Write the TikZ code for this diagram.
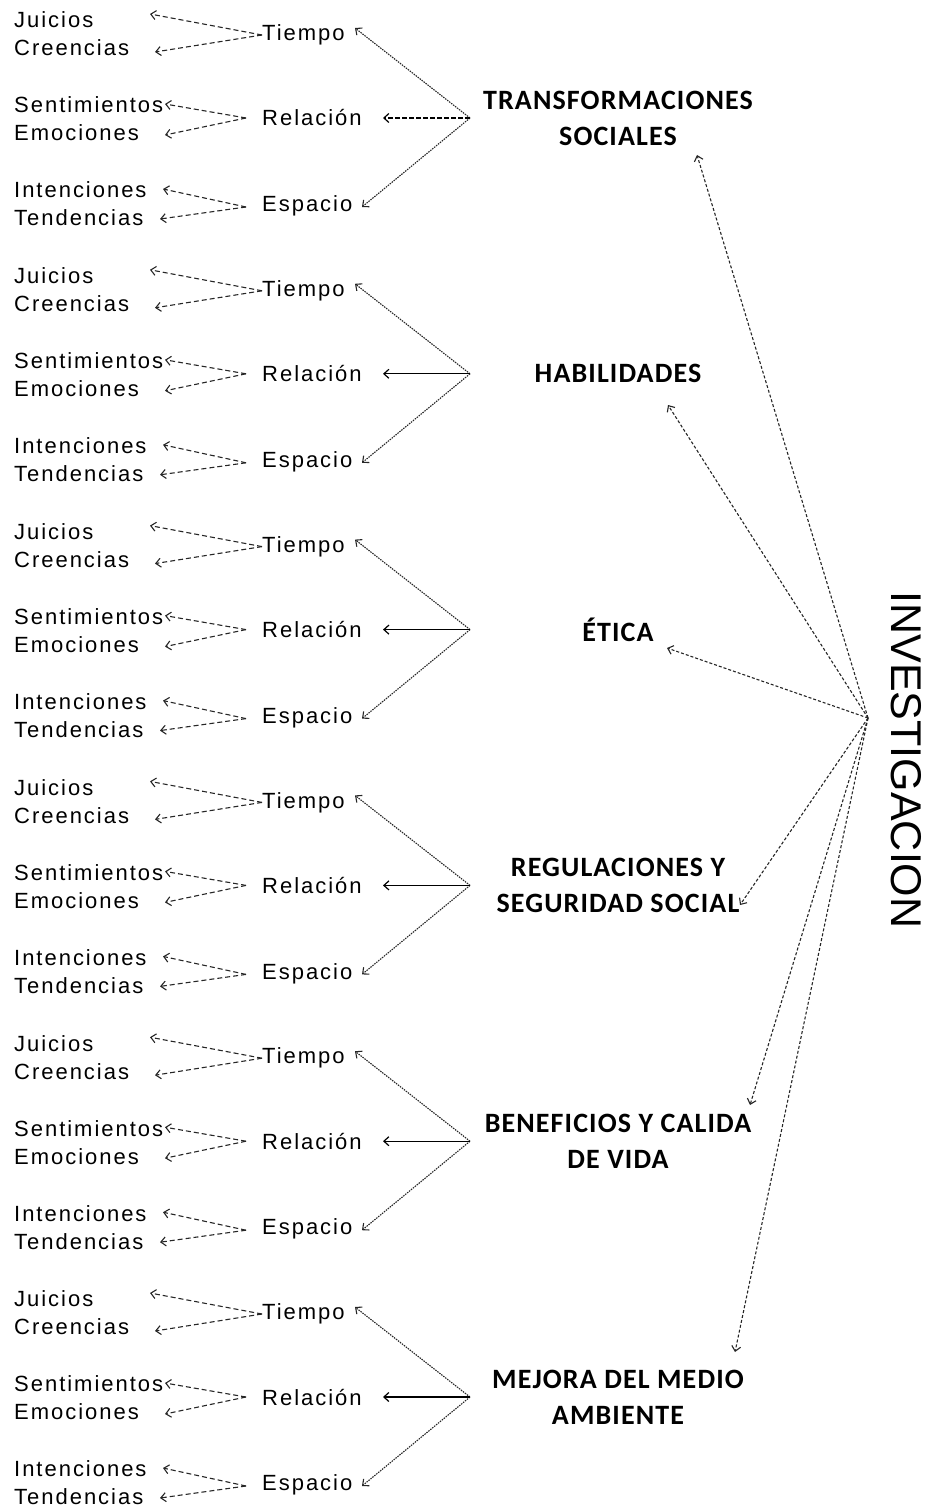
\documentclass[tikz,border=0pt]{standalone}
\usepackage{fontspec}
\setmainfont{Liberation Sans}
\newfontfamily\lblfont{Liberation Sans}[LetterSpace=9]
\newfontfamily\catfont{Carlito}[LetterSpace=4]
\usetikzlibrary{arrows.meta,calc}
\begin{document}
\begin{tikzpicture}[x=1pt,y=-1pt,
  lbl/.style={font=\lblfont\fontsize{22}{26}\selectfont, anchor=west, inner sep=0pt, text=black},
  catlbl/.style={font=\catfont\bfseries\fontsize{28}{36}\selectfont, align=center, inner sep=0pt, text=black},
  tip/.style={-{Straight Barb[length=5pt,width=9pt]}},
  da/.style={tip, dash pattern=on 5pt off 3pt, line width=1.1pt, black!85},
  dt/.style={tip, dash pattern=on 1.5pt off 1pt, line width=1.1pt, black!85},
  so/.style={tip, line width=1.2pt, black},
  ld/.style={tip, dash pattern=on 3pt off 2pt, line width=1.1pt, black!85}]
\useasboundingbox (0,0) rectangle (925,1511);
\foreach \k/\cat in {0/{TRANSFORMACIONES\\SOCIALES}, 1/HABILIDADES, 2/ÉTICA, 3/{REGULACIONES Y\\SEGURIDAD SOCIAL}, 4/{BENEFICIOS Y CALIDA\\DE VIDA}, 5/{MEJORA DEL MEDIO\\AMBIENTE}} {
  \begin{scope}[shift={(0,255.8*\k)}]
    \node[lbl] (ju\k) at (14,20) {Juicios};
    \node[lbl] (cr\k) at (14,48) {Creencias};
    \node[lbl] (se\k) at (14,105) {Sentimientos};
    \node[lbl] (em\k) at (14,133) {Emociones};
    \node[lbl] (in\k) at (14,190) {Intenciones};
    \node[lbl] (te\k) at (14,218) {Tendencias};
    \node[lbl] (ti\k) at (262,35) {Tiempo};
    \node[lbl] (re\k) at (262,118) {Relación};
    \node[lbl] (es\k) at (262,206) {Espacio};
    \node[catlbl] (cat\k) at (618,118) {\cat};
    \coordinate (hub\k) at (470,118);
    \coordinate (aju\k) at (150,14);
    \coordinate (acr\k) at (155,52);
    \coordinate (ase\k) at (165,104);
    \coordinate (aem\k) at (165,135);
    \coordinate (ain\k) at (163,189);
    \coordinate (ate\k) at (160,219);
    \coordinate (sre\k) at (246,118);
    \coordinate (ses\k) at (246,207);
    \coordinate (ati\k) at (355,28);
    \coordinate (are\k) at (383,118);
    \coordinate (aes\k) at (362,207);
    \draw[da] (ti\k.west) -- (aju\k);
    \draw[da] (ti\k.west) -- (acr\k);
    \draw[da] (sre\k) -- (ase\k);
    \draw[da] (sre\k) -- (aem\k);
    \draw[da] (ses\k) -- (ain\k);
    \draw[da] (ses\k) -- (ate\k);
    \draw[dt] (hub\k) -- (ati\k);
    \draw[dt] (hub\k) -- (aes\k);
  \end{scope}
}
\draw[tip, dash pattern=on 5pt off 2pt, line width=1.2pt] (hub0) -- (are0);
\foreach \k in {1,...,5} {\draw[so] (hub\k) -- (are\k);}
\node[font=\fontsize{43}{50}\selectfont, rotate=-90, inner sep=0pt, text=black] (inv) at (906,760) {INVESTIGACION};
\coordinate (ih) at (868,718);
\coordinate (e0) at (697,155);
\coordinate (e1) at (668,405);
\coordinate (e2) at (667,648);
\coordinate (e3) at (740,905);
\coordinate (e4) at (750,1105);
\coordinate (e5) at (735,1352);
\foreach \k in {0,...,5} {\draw[ld] (ih) -- (e\k);}
\end{tikzpicture}
\end{document}
